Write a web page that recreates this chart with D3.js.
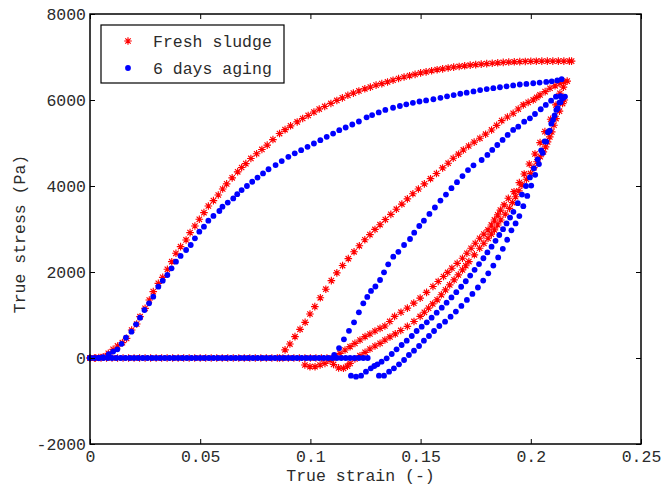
<!DOCTYPE html>
<html><head><meta charset="utf-8">
<script src="https://cdn.jsdelivr.net/npm/d3@7"></script>
<style>body{margin:0;background:#fff}svg{display:block}text{font-family:"Liberation Mono","Courier New",monospace}</style>
</head><body>
<svg id="chart" width="663" height="491"></svg>
<script>
// ---------- data (true strain, true stress Pa) ----------
const xTicks = [0, 0.05, 0.1, 0.15, 0.2, 0.25];
const xTickLabels = ["0", "0.05", "0.1", "0.15", "0.2", "0.25"];
const yTicks = [-2000, 0, 2000, 4000, 6000, 8000];
const yTickLabels = ["-2000", "0", "2000", "4000", "6000", "8000"];
const seriesNames = ["Fresh sludge", "6 days aging"];

// Fresh sludge: zero-stress plateau strains
const freshFlat = [0,0.0025,0.005,0.0075,0.01,0.0125,0.015,0.0175,0.02,0.0225,0.025,0.0275,0.03,0.0325,0.035,0.0375,0.04,0.0425,0.045,0.0475,0.05,0.0525,0.055,0.0575,0.06,0.0625,0.065,0.0675,0.07,0.0725,0.075,0.0775,0.08,0.0825,0.085,0.0875,0.09,0.0925,0.095,0.0975,0.1,0.1025,0.105,0.1075,0.11];
const freshLoad1 = [[0,0],[0.002,0],[0.004,10],[0.006,30],[0.0083,108],[0.0105,200],[0.0125,280],[0.0147,356],[0.0166,457],[0.0189,651],[0.0212,791],[0.0227,961],[0.025,1155],[0.0269,1349],[0.0287,1543],[0.031,1737],[0.033,1876],[0.0351,2063],[0.0371,2240],[0.039,2435],[0.0411,2589],[0.0436,2745],[0.0454,2915],[0.0476,3070],[0.0496,3226],[0.0517,3380],[0.0537,3535],[0.056,3659],[0.0582,3791],[0.0602,3930],[0.062,4050],[0.0645,4190],[0.067,4330],[0.0688,4430],[0.0707,4520],[0.073,4640],[0.0756,4750],[0.078,4850],[0.0804,4950],[0.083,5080],[0.086,5220],[0.0885,5310],[0.091,5400],[0.094,5490],[0.0965,5570],[0.099,5640],[0.1016,5720],[0.104,5790],[0.1065,5850],[0.1093,5920],[0.112,5990],[0.1145,6050],[0.117,6110],[0.1195,6160],[0.122,6210],[0.1247,6260],[0.1272,6300],[0.1298,6345],[0.1324,6380],[0.135,6420],[0.1375,6460],[0.14,6500],[0.1425,6535],[0.145,6565],[0.1475,6595],[0.15,6630],[0.1525,6655],[0.155,6680],[0.1575,6705],[0.16,6725],[0.1625,6745],[0.165,6765],[0.1675,6780],[0.17,6795],[0.1725,6810],[0.175,6822],[0.1775,6835],[0.18,6845],[0.1825,6855],[0.185,6865],[0.1875,6875],[0.19,6882],[0.1925,6888],[0.195,6893],[0.1975,6897],[0.2,6900],[0.2025,6902],[0.205,6904],[0.2075,6905],[0.21,6905],[0.2125,6905],[0.215,6905],[0.2175,6905],[0.2185,6905]];
const freshBranch2 = [[0.086,0],[0.0885,190],[0.0907,325],[0.093,496],[0.0953,667],[0.0976,830],[0.0998,1023],[0.102,1194],[0.1045,1400],[0.107,1600],[0.1095,1800],[0.112,1980],[0.1146,2150],[0.1172,2310],[0.1198,2470],[0.1222,2610],[0.1247,2750],[0.127,2870],[0.1293,2990],[0.1316,3100],[0.134,3220],[0.1365,3340],[0.139,3460],[0.1415,3580],[0.144,3700],[0.1465,3820],[0.149,3930],[0.1517,4050],[0.1545,4170],[0.1572,4290],[0.16,4420],[0.1625,4530],[0.1648,4645],[0.1672,4740],[0.1694,4838],[0.1718,4930],[0.1743,5020],[0.1769,5110],[0.1795,5205],[0.1822,5303],[0.1845,5410],[0.1868,5520],[0.1894,5605],[0.192,5691],[0.1943,5790],[0.1966,5885],[0.1988,5945],[0.2011,6001],[0.2027,6060],[0.2042,6117],[0.2065,6195],[0.2087,6273],[0.211,6330],[0.2132,6389],[0.215,6420],[0.2165,6440]];
const freshBranch3 = [[0.0975,-163],[0.0998,-202],[0.1021,-202],[0.1044,-163],[0.1066,-124],[0.1089,-50],[0.1112,30],[0.1134,108],[0.1157,186],[0.118,263],[0.1202,341],[0.1225,419],[0.1248,496],[0.127,558],[0.1293,628],[0.1316,690],[0.1338,744],[0.136,850],[0.1382,967],[0.1411,1065],[0.144,1160],[0.1469,1275],[0.1498,1392],[0.1527,1525],[0.1556,1663],[0.158,1780],[0.1604,1895],[0.1623,1990],[0.1642,2088],[0.1666,2200],[0.169,2320],[0.171,2436],[0.1729,2552],[0.1748,2668],[0.1768,2784],[0.1787,2880],[0.1806,2978],[0.1821,3094],[0.1835,3210],[0.185,3330],[0.1862,3440],[0.1879,3560],[0.1898,3714],[0.1924,3868],[0.1948,4078],[0.197,4280],[0.1993,4512],[0.2019,4745],[0.2042,5008],[0.2064,5264],[0.209,5552],[0.2114,5885],[0.2132,6157],[0.2148,6300]];
const freshBranch4 = [[0.1105,-150],[0.1128,-230],[0.115,-240],[0.1168,-190],[0.118,-124],[0.1202,-23],[0.1225,54],[0.1248,132],[0.127,209],[0.1293,279],[0.1316,341],[0.1338,419],[0.1361,490],[0.1385,560],[0.141,640],[0.144,735],[0.147,850],[0.1498,967],[0.1517,1063],[0.1536,1160],[0.1555,1257],[0.1575,1353],[0.1594,1470],[0.1613,1585],[0.1632,1700],[0.1652,1817],[0.1671,1933],[0.169,2049],[0.1705,2146],[0.1719,2243],[0.1744,2400],[0.1768,2552],[0.1787,2668],[0.1806,2784],[0.1821,2880],[0.1835,2978],[0.185,3094],[0.1864,3210],[0.1884,3345],[0.1903,3480],[0.1917,3615],[0.1931,3751],[0.1946,3886],[0.196,4022],[0.198,4157],[0.1999,4292],[0.2014,4428],[0.2028,4563],[0.2043,4680],[0.2057,4795],[0.2067,4911],[0.2076,5027],[0.2086,5143],[0.2095,5259],[0.2105,5413],[0.2114,5568],[0.213,5740],[0.2144,5917],[0.2152,6000]];

// 6 days aging
const agedFlat = [0,0.002,0.004,0.006,0.008,0.01,0.012,0.014,0.016,0.018,0.02,0.022,0.024,0.026,0.028,0.03,0.032,0.034,0.036,0.038,0.04,0.042,0.044,0.046,0.048,0.05,0.052,0.054,0.056,0.058,0.06,0.062,0.064,0.066,0.068,0.07,0.072,0.074,0.076,0.078,0.08,0.082,0.084,0.086,0.088,0.09,0.092,0.094,0.096,0.098,0.1,0.102,0.104,0.106,0.108,0.11,0.112,0.114,0.116,0.118,0.12,0.122,0.124,0.126];
const agedLoad1 = [[0,0],[0.004,0],[0.006,20],[0.0085,90],[0.0105,150],[0.0124,202],[0.0143,330],[0.0163,473],[0.0188,612],[0.0209,783],[0.0227,938],[0.0247,1116],[0.0268,1272],[0.0287,1426],[0.031,1659],[0.033,1798],[0.0351,1930],[0.037,2086],[0.039,2240],[0.0411,2373],[0.0436,2512],[0.0457,2628],[0.0476,2783],[0.0496,2938],[0.0517,3054],[0.0537,3194],[0.056,3303],[0.0587,3419],[0.0601,3519],[0.0625,3615],[0.065,3712],[0.0668,3810],[0.0688,3906],[0.0712,4000],[0.0736,4099],[0.076,4195],[0.0785,4292],[0.081,4390],[0.0842,4486],[0.087,4580],[0.09,4679],[0.0929,4760],[0.0958,4834],[0.0987,4910],[0.1016,4988],[0.1045,5065],[0.1074,5143],[0.1103,5220],[0.1131,5298],[0.116,5360],[0.119,5430],[0.122,5500],[0.1255,5598],[0.128,5650],[0.131,5710],[0.134,5770],[0.1375,5820],[0.1406,5861],[0.1435,5900],[0.1465,5935],[0.1495,5965],[0.1525,5990],[0.1558,6017],[0.159,6050],[0.162,6085],[0.165,6115],[0.168,6145],[0.1709,6171],[0.174,6200],[0.177,6230],[0.18,6255],[0.183,6275],[0.186,6296],[0.189,6318],[0.192,6340],[0.195,6360],[0.198,6375],[0.2011,6389],[0.204,6405],[0.207,6420],[0.2095,6435],[0.212,6455],[0.214,6482]];
const agedBranch2 = [[0.1108,70],[0.113,230],[0.1152,435],[0.1175,632],[0.1198,830],[0.122,1063],[0.124,1271],[0.1258,1420],[0.1275,1560],[0.1295,1663],[0.1316,1814],[0.1334,1993],[0.1353,2179],[0.1376,2357],[0.1399,2470],[0.1425,2628],[0.1452,2768],[0.1471,2915],[0.1494,3070],[0.1515,3194],[0.154,3350],[0.1565,3500],[0.159,3660],[0.1615,3800],[0.164,3950],[0.1665,4090],[0.169,4230],[0.1715,4370],[0.174,4480],[0.1777,4605],[0.1803,4722],[0.1825,4838],[0.1848,4954],[0.1872,5071],[0.1895,5187],[0.192,5303],[0.1943,5380],[0.197,5497],[0.1996,5575],[0.2019,5675],[0.2045,5785],[0.2068,5885],[0.2092,5985],[0.2114,6078],[0.2135,6090]];
const agedBranch3 = [[0.1184,-411],[0.1207,-434],[0.123,-411],[0.1252,-318],[0.1274,-240],[0.129,-186],[0.1304,-147],[0.1323,-86],[0.1346,-7],[0.1369,93],[0.1391,202],[0.1414,302],[0.1437,402],[0.146,512],[0.1482,628],[0.1505,728],[0.1528,830],[0.155,937],[0.1573,1054],[0.1596,1170],[0.1618,1286],[0.164,1408],[0.1662,1530],[0.1684,1657],[0.1705,1785],[0.1725,1917],[0.1745,2050],[0.1765,2185],[0.1785,2320],[0.1803,2455],[0.1822,2590],[0.184,2725],[0.1857,2860],[0.1874,2995],[0.189,3130],[0.1906,3265],[0.1921,3400],[0.1941,3600],[0.196,3800],[0.1978,4000],[0.1996,4200],[0.2014,4410],[0.2031,4620],[0.2047,4830],[0.2063,5040],[0.2078,5250],[0.2093,5450],[0.2108,5640],[0.2122,5810],[0.2135,5950],[0.2147,6050]];
const agedBranch4 = [[0.1311,-411],[0.1334,-411],[0.1357,-318],[0.1379,-240],[0.1402,-147],[0.1425,-47],[0.1447,70],[0.147,170],[0.1493,279],[0.1515,402],[0.1538,512],[0.1561,628],[0.1585,744],[0.1611,845],[0.1636,960],[0.166,1080],[0.1685,1210],[0.171,1350],[0.1735,1490],[0.176,1640],[0.1784,1800],[0.1807,1970],[0.183,2150],[0.1852,2340],[0.1873,2540],[0.1893,2750],[0.1912,2970],[0.1931,3130],[0.1948,3300],[0.1966,3530],[0.1984,3770],[0.2002,4010],[0.202,4260],[0.2037,4510],[0.2054,4770],[0.207,5030],[0.2086,5290],[0.2101,5540],[0.2116,5770],[0.213,5940],[0.2143,6040],[0.2155,6080]];

// ---------- drawing ----------
const W = 663, H = 491;
const m = {left: 90, right: 641, top: 14, bottom: 444};
const FS = 16.5;
const txt = "#2b2b2b";
const svg = d3.select("#chart");
svg.append("rect").attr("width", W).attr("height", H).attr("fill", "#fff");

const x = d3.scaleLinear().domain([0, 0.25]).range([m.left, m.right]);
const y = d3.scaleLinear().domain([-2000, 8000]).range([m.bottom, m.top]);

const freshPts = freshFlat.map(s => [s, 0]).concat(freshLoad1, freshBranch2, freshBranch3, freshBranch4);
const agedPts = agedFlat.map(s => [s, 0]).concat(agedLoad1, agedBranch2, agedBranch3, agedBranch4);

const starPath = "M-3.8,0H3.8M0,-3.8V3.8M-2.7,-2.7L2.7,2.7M-2.7,2.7L2.7,-2.7";
const red = "#ff0000", blue = "#0000ff";

const plot = svg.append("g");
plot.append("g").selectAll("path").data(freshPts).join("path")
  .attr("d", starPath)
  .attr("transform", d => `translate(${x(d[0])},${y(d[1])})`)
  .attr("stroke", red).attr("stroke-width", 1.15).attr("fill", "none");
plot.append("g").selectAll("circle").data(agedPts).join("circle")
  .attr("cx", d => x(d[0])).attr("cy", d => y(d[1])).attr("r", 2.9)
  .attr("fill", blue);

// axes (MATLAB style: ticks inward on all four sides)
const tickLen = 5;
const gx = svg.append("g").attr("transform", `translate(0,${m.bottom})`)
  .call(d3.axisBottom(x).tickValues(xTicks).tickFormat((d, i) => xTickLabels[i]).tickSizeInner(-tickLen).tickSizeOuter(0));
const gxt = svg.append("g").attr("transform", `translate(0,${m.top})`)
  .call(d3.axisTop(x).tickValues(xTicks).tickFormat("").tickSizeInner(-tickLen).tickSizeOuter(0));
const gy = svg.append("g").attr("transform", `translate(${m.left},0)`)
  .call(d3.axisLeft(y).tickValues(yTicks).tickFormat((d, i) => yTickLabels[i]).tickSizeInner(-tickLen).tickSizeOuter(0));
const gyr = svg.append("g").attr("transform", `translate(${m.right},0)`)
  .call(d3.axisRight(y).tickValues(yTicks).tickFormat("").tickSizeInner(-tickLen).tickSizeOuter(0));
[gx, gxt, gy, gyr].forEach(g => {
  g.select(".domain").remove();
  g.selectAll(".tick line").attr("stroke", "#000").attr("stroke-width", 1);
});
gx.selectAll(".tick text").attr("y", 18).attr("dy", 0)
  .attr("font-size", FS).attr("fill", txt).attr("font-family", "Liberation Mono, monospace");
gy.selectAll(".tick text").attr("x", -4).attr("dy", "0.35em")
  .attr("font-size", FS).attr("fill", txt).attr("font-family", "Liberation Mono, monospace");

svg.append("rect").attr("x", m.left).attr("y", m.top)
  .attr("width", m.right - m.left).attr("height", m.bottom - m.top)
  .attr("fill", "none").attr("stroke", "#000").attr("stroke-width", 1.5);

svg.append("text").attr("x", (m.left + m.right) / 2 - 5).attr("y", 481)
  .attr("text-anchor", "middle").attr("font-size", FS).attr("fill", txt)
  .text("True strain (-)");
svg.append("text").attr("transform", "translate(25,234) rotate(-90)")
  .attr("text-anchor", "middle").attr("font-size", FS).attr("fill", txt)
  .text("True stress (Pa)");

// legend
const lg = svg.append("g");
lg.append("rect").attr("x", 101).attr("y", 25).attr("width", 183).attr("height", 58)
  .attr("fill", "#fff").attr("stroke", "#000").attr("stroke-width", 1.2);
lg.append("path").attr("d", starPath).attr("transform", "translate(128,41)")
  .attr("stroke", red).attr("stroke-width", 1.15).attr("fill", "none");
lg.append("circle").attr("cx", 128).attr("cy", 68).attr("r", 2.9).attr("fill", blue);
lg.selectAll("text.leg").data(seriesNames).join("text").attr("class", "leg")
  .attr("x", 153).attr("y", (d, i) => 47 + i * 27)
  .attr("font-size", FS).attr("fill", txt).text(d => d);
</script>
</body></html>
